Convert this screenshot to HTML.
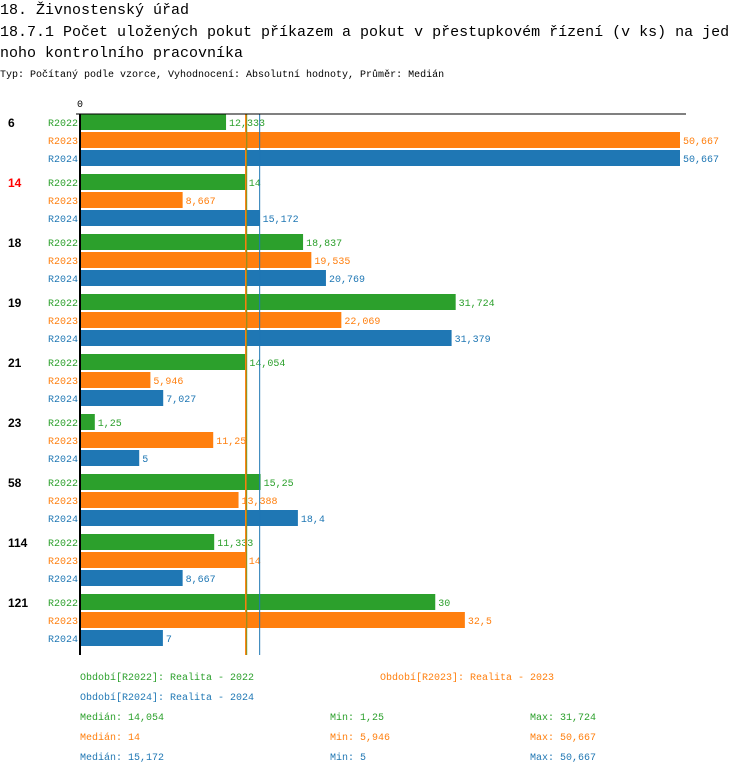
<!DOCTYPE html>
<html><head><meta charset="utf-8"><style>
body{margin:0;width:750px;height:774px;background:#fff;overflow:hidden;font-family:"Liberation Mono",monospace}
svg{position:absolute;left:0;top:0}
</style></head><body>
<svg id="c" width="750" height="774" xmlns="http://www.w3.org/2000/svg">
<text x="0" y="14" font-size="15" font-family="Liberation Mono, monospace">18. Živnostenský úřad</text>
<text x="0" y="36" font-size="15" font-family="Liberation Mono, monospace">18.7.1 Počet uložených pokut příkazem a pokut v přestupkovém řízení (v ks) na jed</text>
<text x="0" y="57" font-size="15" font-family="Liberation Mono, monospace">noho kontrolního pracovníka</text>
<text x="0" y="77" font-size="10" font-family="Liberation Mono, monospace">Typ: Počítaný podle vzorce, Vyhodnocení: Absolutní hodnoty, Průměr: Medián</text>
<text x="80" y="107" font-size="10" text-anchor="middle" font-family="Liberation Mono, monospace">0</text>
</svg>
<script>
const categories=["6","14","18","19","21","23","58","114","121"];
const highlighted=["14"];
const seriesNames=["R2022","R2023","R2024"];
const r2022=[12.333,14,18.837,31.724,14.054,1.25,15.25,11.333,30];
const r2023=[50.667,8.667,19.535,22.069,5.946,11.25,13.388,14,32.5];
const r2024=[50.667,15.172,20.769,31.379,7.027,5,18.4,8.667,7];
const labels2022=["12,333","14","18,837","31,724","14,054","1,25","15,25","11,333","30"];
const labels2023=["50,667","8,667","19,535","22,069","5,946","11,25","13,388","14","32,5"];
const labels2024=["50,667","15,172","20,769","31,379","7,027","5","18,4","8,667","7"];
const medians=[14.054,14,15.172];
const mins=["1,25","5,946","5"];
const maxs=["31,724","50,667","50,667"];
const medianLabels=["14,054","14","15,172"];
const colors=["#2ca02c","#ff7f0e","#1f77b4"];
const NS="http://www.w3.org/2000/svg";
const svg=document.getElementById('c');
const x0=80,maxV=50.667,pxW=600,top0=114,groupH=60,barPitch=18,barH=16;
const xs=v=>x0+v/maxV*pxW;
function mk(t,a,txt){const e=document.createElementNS(NS,t);for(const k in a)e.setAttribute(k,a[k]);if(txt!=null)e.textContent=txt;svg.appendChild(e);return e;}
const series=[r2022,r2023,r2024],lbls=[labels2022,labels2023,labels2024];
const bottom=top0+categories.length*groupH+1;
categories.forEach((c,i)=>{
  const gy=top0+i*groupH;
  const t=mk('text',{x:8,y:gy+13,'font-size':12,'font-weight':'bold',fill:highlighted.includes(c)?'#ff0000':'#000','font-family':'Liberation Sans, sans-serif'},c);
  
  
  series.forEach((s,j)=>{
    const y=gy+j*barPitch;
    const l=mk('text',{x:78,y:y+12,'font-size':10,'text-anchor':'end',fill:colors[j],'font-family':'Liberation Mono, monospace'},seriesNames[j]);
    
    
    const r=mk('rect',{x:x0,y:y,width:xs(s[i])-x0,height:barH,fill:colors[j]});
    
    
    const v=mk('text',{x:xs(s[i])+3,y:y+12,'font-size':10,fill:colors[j],'font-family':'Liberation Mono, monospace'},lbls[j][i]);
    
    
  });
});
medians.forEach((m,j)=>{
  const l=mk('line',{x1:xs(m),x2:xs(m),y1:top0,y2:bottom,stroke:colors[j],'stroke-width':j==2?1:1.5});
  
  
});
const ax=mk('line',{x1:76,x2:686,y1:top0,y2:top0,stroke:'#000','stroke-width':1});


const ay=mk('line',{x1:80,x2:80,y1:top0,y2:bottom,stroke:'#000','stroke-width':2});


const legPos=[[80,680],[380,680],[80,700]];
seriesNames.forEach((n,j)=>{
  const yr=n.slice(1);
  const e=mk('text',{x:legPos[j][0],y:legPos[j][1],'font-size':10,fill:colors[j],'font-family':'Liberation Mono, monospace'},'Období['+n+']: Realita - '+yr);
  
  
  const y=720+j*20;
  const a=mk('text',{x:80,y:y,'font-size':10,fill:colors[j],'font-family':'Liberation Mono, monospace'},'Medián: '+medianLabels[j]);
  
  
  const b=mk('text',{x:330,y:y,'font-size':10,fill:colors[j],'font-family':'Liberation Mono, monospace'},'Min: '+mins[j]);
  
  
  const d=mk('text',{x:530,y:y,'font-size':10,fill:colors[j],'font-family':'Liberation Mono, monospace'},'Max: '+maxs[j]);
  
  
});
</script>
</body></html>
